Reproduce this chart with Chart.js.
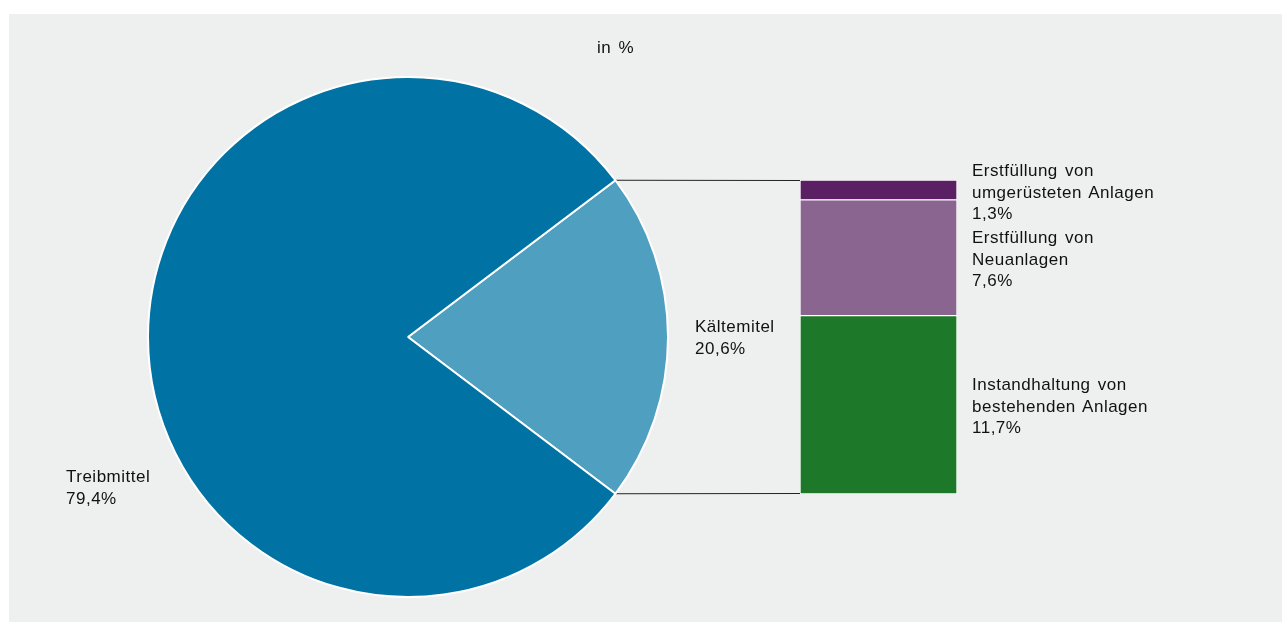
<!doctype html>
<html lang="de">
<head>
<meta charset="utf-8">
<title>Kältemittel und Treibmittel</title>
<script src="https://cdn.jsdelivr.net/npm/chart.js"></script>
<style>
	body { margin: 0; background: #ffffff; font-family: "Liberation Sans", Arial, sans-serif; }
	#bg { position: absolute; left: 9px; top: 14px; width: 1273px; height: 608px; background: #eef0ef; }
	canvas { position: absolute; }
	.lbl { position: absolute; font-size: 17px; line-height: 21.5px; color: #111111; letter-spacing: 0.5px; word-spacing: 2px; white-space: nowrap; }
</style>
</head>
<body>
<div id="bg"></div>
<canvas id="linien" width="1286" height="626" style="left:0;top:0"></canvas>
<canvas id="kreis" width="522" height="522" style="left:147px;top:76px"></canvas>
<canvas id="saeule" width="157" height="314" style="left:800px;top:180px"></canvas>

<div class="lbl" style="left:597px;top:37px">in %</div>
<div class="lbl" style="left:66px;top:466px">Treibmittel<br>79,4%</div>
<div class="lbl" style="left:695px;top:316px">Kältemitel<br>20,6%</div>
<div class="lbl" style="left:972px;top:160px">Erstfüllung von<br>umgerüsteten Anlagen<br>1,3%</div>
<div class="lbl" style="left:972px;top:227px">Erstfüllung von<br>Neuanlagen<br>7,6%</div>
<div class="lbl" style="left:972px;top:374px">Instandhaltung von<br>bestehenden Anlagen<br>11,7%</div>

<script>
	// Kreis: Anteile in %
	var kreisLabels = ["Kältemitel", "Treibmittel"];
	var kreisWerte = [20.6, 79.4];
	var kreisFarben = ["#4f9fc0", "#0072a3"];

	// Säule: Aufteilung Kältemittel (von unten nach oben)
	var saeuleLabels = ["Instandhaltung von bestehenden Anlagen", "Erstfüllung von Neuanlagen", "Erstfüllung von umgerüsteten Anlagen"];
	var saeuleWerte = [11.7, 7.6, 1.3];
	var saeuleFarben = ["#1e7829", "#8a658f", "#5b1f63"];

	Chart.defaults.animation = false;

	// Kältemittel-Segment mittig nach rechts drehen
	var drehung = 90 - kreisWerte[0] * 360 / 100 / 2;

	var kreis = new Chart(document.getElementById("kreis"), {
		type: "pie",
		data: {
			labels: kreisLabels,
			datasets: [{ data: kreisWerte, backgroundColor: kreisFarben, borderColor: "#ffffff", borderWidth: 2 }]
		},
		options: {
			responsive: false,
			rotation: drehung,
			layout: { padding: 0 },
			plugins: { legend: { display: false }, tooltip: { enabled: false } }
		}
	});

	var summe = saeuleWerte.reduce(function (a, b) { return a + b; }, 0);

	var saeule = new Chart(document.getElementById("saeule"), {
		type: "bar",
		data: {
			labels: ["Kältemittel"],
			datasets: saeuleWerte.map(function (w, i) {
				return {
					label: saeuleLabels[i], data: [w], backgroundColor: saeuleFarben[i],
					borderColor: "#ffffff", borderWidth: 1, borderSkipped: false,
					barPercentage: 1, categoryPercentage: 1
				};
			})
		},
		options: {
			responsive: false,
			layout: { padding: 0 },
			scales: {
				x: { stacked: true, display: false },
				y: { stacked: true, display: false, min: 0, max: summe }
			},
			plugins: { legend: { display: false }, tooltip: { enabled: false } }
		}
	});

	// Verbindungslinien vom Kreis zur Säule
	var arc = kreis.getDatasetMeta(0).data[0];
	var oben = saeule.getDatasetMeta(saeuleWerte.length - 1).data[0];
	var unten = saeule.getDatasetMeta(0).data[0];
	var kx = 147, ky = 76, sx = 800, sy = 180;
	var ctx = document.getElementById("linien").getContext("2d");
	ctx.strokeStyle = "#222222";
	ctx.lineWidth = 1;
	ctx.beginPath();
	ctx.moveTo(kx + arc.x + arc.outerRadius * Math.cos(arc.startAngle), ky + arc.y + arc.outerRadius * Math.sin(arc.startAngle));
	ctx.lineTo(sx + oben.x - oben.width / 2, sy + oben.y + 0.5);
	ctx.moveTo(kx + arc.x + arc.outerRadius * Math.cos(arc.endAngle), ky + arc.y + arc.outerRadius * Math.sin(arc.endAngle));
	ctx.lineTo(sx + unten.x - unten.width / 2, sy + unten.base - 0.5);
	ctx.stroke();
</script>
</body>
</html>
